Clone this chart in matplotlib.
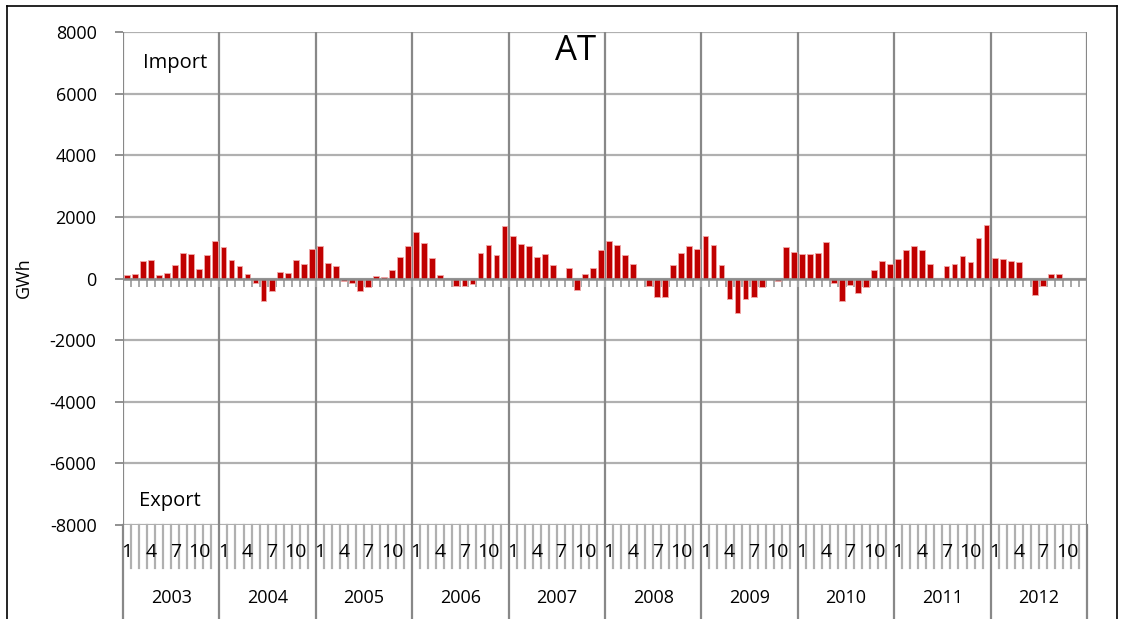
import matplotlib.pyplot as plt
import numpy as np
from matplotlib.lines import Line2D

plt.rcParams['font.family'] = ['Open Sans', 'DejaVu Sans']

years = [2003, 2004, 2005, 2006, 2007, 2008, 2009, 2010, 2011, 2012]

# monthly net exchange, GWh (positive = import)
v2003 = [100, 160, 560, 600, 100, 180, 450, 820, 780, 310, 750, 1210]
v2004 = [1020, 600, 390, 160, -160, -725, -390, 195, 180, 595, 475, 950]
v2005 = [1050, 510, 410, -75, -160, -420, -290, 75, 45, 270, 700, 1040]
v2006 = [1500, 1150, 680, 120, 0, -230, -230, -185, 820, 1100, 750, 1690]
v2007 = [1375, 1115, 1040, 700, 790, 430, 0, 335, -360, 140, 335, 940]
v2008 = [1210, 1080, 770, 455, 0, -250, -605, -585, 430, 820, 1040, 950]
v2009 = [1375, 1095, 430, -680, -1125, -680, -615, -270, 0, -75, 1020, 845]
v2010 = [780, 800, 820, 1180, -130, -725, -195, -455, -290, 290, 560, 465]
v2011 = [630, 940, 1060, 920, 455, 0, 420, 465, 725, 540, 1310, 1740]
v2012 = [680, 640, 560, 520, 0, -550, -230, 160, 160, 0, 0, 0]

month_labels = ['1', '', '', '4', '', '', '7', '', '', '10', '', '']

values = np.array(v2003 + v2004 + v2005 + v2006 + v2007 + v2008
                  + v2009 + v2010 + v2011 + v2012)
n = len(values)
x = np.arange(n) + 0.5

W, H = 1132, 619
fig = plt.figure(figsize=(W / 100, H / 100), dpi=100)
ax = fig.add_axes([123 / W, (H - 525) / H, 964 / W, 493 / H])

grid_h = '#b0b0b0'
grid_v = '#888888'

ax.set_xlim(0, n)
ax.set_ylim(-8000, 8000)
yt = np.arange(-8000, 8001, 2000)
ax.set_yticks(yt)
ax.set_yticklabels([str(v) for v in yt], fontsize=13)
for yv in yt:
    ax.axhline(yv, color=grid_h, lw=1.6, zorder=1)
for i in range(len(years) + 1):
    ax.axvline(i * 12, color=grid_v, lw=1.6, zorder=1)

ax.bar(x, values, width=0.72, color='#c00000', edgecolor='#f0a8a8',
       linewidth=0.6, zorder=3)

# zero axis with small tick marks below it
ax.axhline(0, color='#8c8c8c', lw=1.8, zorder=4)
for b in range(1, n):
    ax.plot([b, b], [0, -260], color='#a8a8a8', lw=1.4, zorder=2,
            solid_capstyle='butt')

ax.set_xticks([])
for s in ax.spines.values():
    s.set_visible(False)
ax.tick_params(axis='y', length=6, color=grid_v, width=1.3, pad=13)

fig.text(24 / W, 1 - 278 / H, 'GWh', rotation=90, ha='center', va='center',
         fontsize=13)

ax.text(0.469, 0.995, 'AT', transform=ax.transAxes, ha='center', va='top',
        fontsize=25)
ax.text(0.054, 0.937, 'Import', transform=ax.transAxes, ha='center',
        va='center', fontsize=14.5)
ax.text(0.049, 0.048, 'Export', transform=ax.transAxes, ha='center',
        va='center', fontsize=14.5)

# category axis below the plot area
tr = ax.get_xaxis_transform()
px = 1 / 493
for b in range(n + 1):
    if b % 12 == 0:
        ax.plot([b, b], [0, -93 * px], transform=tr, color=grid_v, lw=1.6,
                clip_on=False)
    else:
        ax.plot([b, b], [0, -43 * px], transform=tr, color='#b0b0b0', lw=1.6,
                clip_on=False)
for i in range(n):
    lab = month_labels[i % 12]
    if lab:
        ax.text(x[i], -27 * px, lab, transform=tr, ha='center',
                va='center', fontsize=14, clip_on=False)
for k, yr in enumerate(years):
    ax.text(k * 12 + 6, -73 * px, str(yr), transform=tr, ha='center',
            va='center', fontsize=13, clip_on=False)

# chart border
for xs, ys in [([7, 1117], [6, 6]), ([7, 7], [6, H]), ([1117, 1117], [6, H])]:
    fig.add_artist(Line2D([v / W for v in xs], [1 - v / H for v in ys],
                          color='black', lw=1.2))

fig.savefig('out.png', dpi=100)
